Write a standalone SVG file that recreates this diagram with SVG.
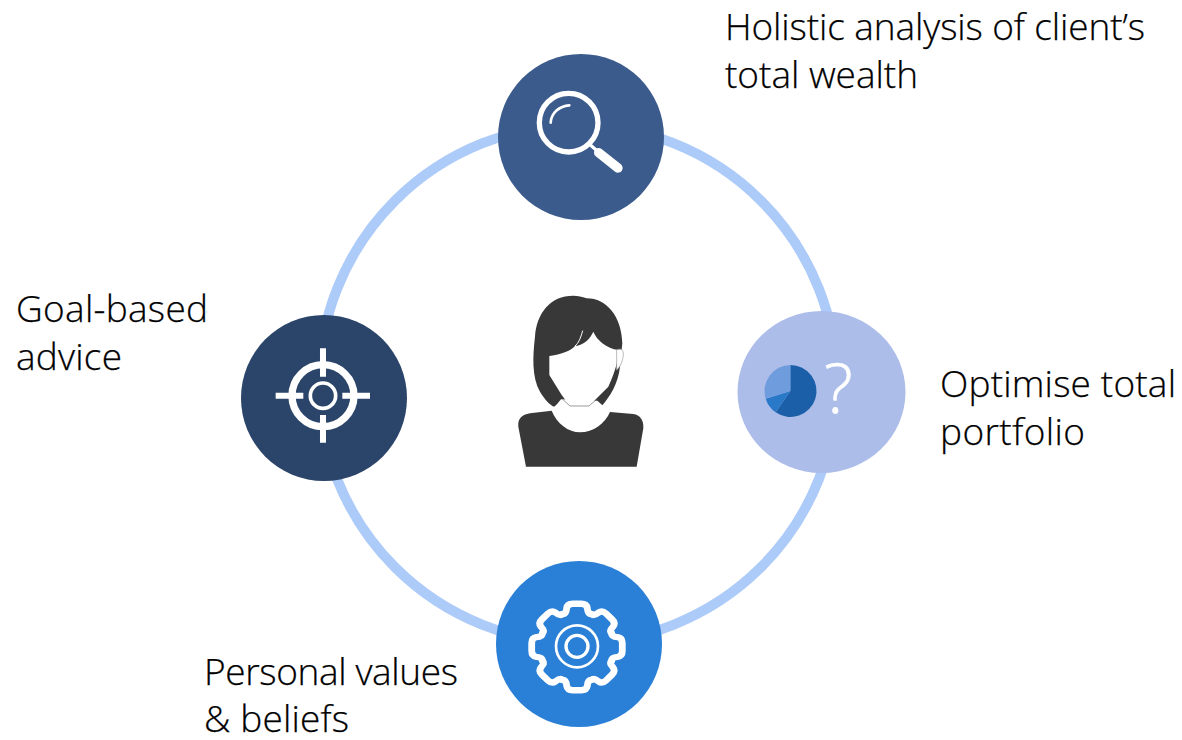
<svg xmlns="http://www.w3.org/2000/svg" width="1182" height="740" viewBox="0 0 1182 740">
<style>
.lbl{font-family:"Open Sans","Noto Sans","Liberation Sans",sans-serif;font-weight:300;font-size:37px;fill:#000;stroke:#000;stroke-width:.25px}
.ic{fill:none;stroke:#fff;stroke-linecap:round;stroke-linejoin:round}
</style>
<defs>
<path id="tooth" d="M-40,-97 Q-30,-97 -29,-114 Q-27,-127 -12,-127 L12,-127 Q27,-127 29,-114 Q30,-97 40,-97" fill="none" stroke="#fff" stroke-width="19" stroke-linecap="round" stroke-linejoin="round"/>
</defs>
<rect width="1182" height="740" fill="#fff"/>
<g id="connectors"><circle cx="578" cy="384" r="259" fill="none" stroke="#adcbf9" stroke-width="10"/></g>
<g id="node-center" transform="translate(490,280) scale(.3333)">
<path fill="#383838" d="M250,47C180,47 140,100 135,170C128,230 125,290 150,335C165,360 180,375 192,380L213,365L322,365L335,378C360,350 385,310 390,260L397,190C395,110 350,55 290,55C275,50 265,47 250,47Z"/>
<path fill="#fff" d="M213,358L185,392L360,396L322,362Z"/>
<path fill="#fff" d="M178,228C220,222 245,210 255,198C285,195 300,175 310,155C320,180 350,205 385,210C385,240 378,270 355,320L297,378L240,378L215,345L178,285Z"/>
<path fill="none" stroke="#fff" stroke-width="3" d="M278,152C272,175 265,190 255,198"/>
<path fill="#fff" stroke="#999" stroke-width="2" d="M380,209C392,205 401,208 400,225C398,245 390,262 380,270Z"/>
<path fill="none" stroke="#666" stroke-width="2" d="M218,358L240,378L297,378L320,358"/>
<path fill="#383838" d="M108,560L85,440C83,415 95,405 120,400L185,392C200,430 235,457 270,457C310,457 345,430 360,396L430,402C450,405 462,420 460,445L440,560Z"/>
</g>
<g id="node-top">
<circle cx="581" cy="137" r="83" fill="#3b5b8c"/>
<g transform="translate(490,50) scale(.3333)" class="ic">
<circle cx="236" cy="218" r="88" stroke-width="16"/>
<path d="M182,218C184,188 208,168 238,166" stroke-width="8"/>
<path d="M302,286L322,303" stroke-width="10"/>
<path d="M326,308L384,354" stroke-width="28"/>
</g>
</g>
<g id="node-right">
<ellipse cx="821.5" cy="392" rx="84" ry="81" fill="#adbdea"/>
<g transform="translate(730,305) scale(.3333)">
<path fill="#1b5fa8" d="M181,258V180A78,78 0 1 1 137,322Z"/>
<path fill="#2a79c9" d="M181,258L137,322A78,78 0 0 1 107,281Z"/>
<path fill="#6f9cdd" d="M181,258L107,281A78,78 0 0 1 181,180Z"/>
</g>
<text x="824" y="413" style="font-family:'Open Sans','Noto Sans',sans-serif;font-weight:300;font-size:68px;fill:#fff;stroke:#fff;stroke-width:.6px">?</text>
</g>
<g id="node-bottom">
<circle cx="579" cy="644" r="83" fill="#2a7fd6"/>
<g transform="translate(577,647) scale(.3567,.34)">
<use href="#tooth"/>
<use href="#tooth" transform="rotate(45)"/>
<use href="#tooth" transform="rotate(90)"/>
<use href="#tooth" transform="rotate(135)"/>
<use href="#tooth" transform="rotate(180)"/>
<use href="#tooth" transform="rotate(225)"/>
<use href="#tooth" transform="rotate(270)"/>
<use href="#tooth" transform="rotate(315)"/>
</g>
<g transform="translate(577,647) scale(.3333)">
<circle r="63" cy="-2" fill="none" stroke="#fff" stroke-width="8"/>
<circle r="33" cy="-2" fill="none" stroke="#fff" stroke-width="10"/>
</g>
</g>
<g id="node-left">
<circle cx="324" cy="398" r="83" fill="#2b4469"/>
<g transform="translate(235,310) scale(.3333)">
<circle cx="264" cy="257" r="93" fill="none" stroke="#fff" stroke-width="22"/>
<circle cx="264" cy="257" r="38" fill="none" stroke="#fff" stroke-width="11"/>
<path fill="none" stroke="#fff" stroke-width="18" d="M264,115V200M264,315V398M122,257H205M322,257H405"/>
</g>
</g>
<g id="labels">
<text class="lbl" x="725" y="40" textLength="420">Holistic analysis of client’s</text>
<text class="lbl" x="725" y="88" textLength="193">total wealth</text>
<text class="lbl" x="16" y="322" textLength="192">Goal-based</text>
<text class="lbl" x="16" y="370" textLength="106">advice</text>
<text class="lbl" x="940" y="397" textLength="236">Optimise total</text>
<text class="lbl" x="940" y="445" textLength="145">portfolio</text>
<text class="lbl" x="204" y="685" textLength="254">Personal values</text>
<text class="lbl" x="204" y="732" textLength="145">&amp; beliefs</text>
</g>
</svg>
